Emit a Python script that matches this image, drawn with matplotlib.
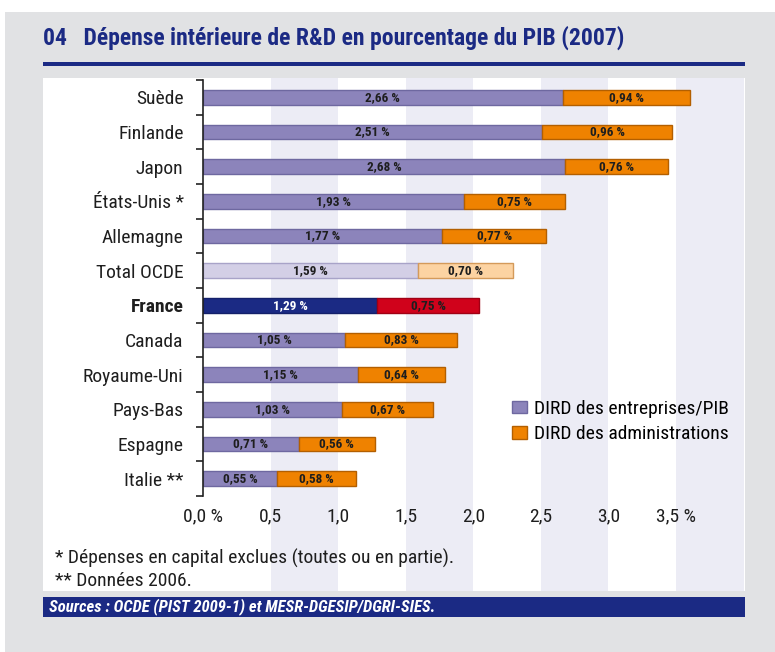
import matplotlib
matplotlib.use("Agg")
import matplotlib.pyplot as plt
from matplotlib.patches import Rectangle, Patch
from matplotlib import font_manager as fm

# ---------------- data ----------------
categories = ['Suède', 'Finlande', 'Japon', 'États-Unis *', 'Allemagne', 'Total OCDE',
              'France', 'Canada', 'Royaume-Uni', 'Pays-Bas', 'Espagne', 'Italie **']
dird_entreprises = [2.66, 2.51, 2.68, 1.93, 1.77, 1.59, 1.29, 1.05, 1.15, 1.03, 0.71, 0.55]
dird_administrations = [0.94, 0.96, 0.76, 0.75, 0.77, 0.70, 0.75, 0.83, 0.64, 0.67, 0.56, 0.58]
x_ticks = [0.0, 0.5, 1.0, 1.5, 2.0, 2.5, 3.0, 3.5]
x_ticklabels = ['0,0 %', '0,5', '1,0', '1,5', '2,0', '2,5', '3,0', '3,5 %']
legend_labels = ['DIRD des entreprises/PIB', 'DIRD des administrations']
title = '04   Dépense intérieure de R&D en pourcentage du PIB (2007)'
notes = ['* Dépenses en capital exclues (toutes ou en partie).', '** Données 2006.']
sources = 'Sources : OCDE (PIST 2009-1) et MESR-DGESIP/DGRI-SIES.'

# ---------------- fonts ----------------
avail = {f.name for f in fm.fontManager.ttflist}
prefs = ['Roboto Condensed', 'Archivo Narrow', 'PT Sans Narrow', 'Liberation Sans Narrow',
         'Arial Narrow', 'IBM Plex Sans Condensed', 'Fira Sans Condensed', 'Asap Condensed',
         'Encode Sans Condensed', 'Pragati Narrow', 'Liberation Sans']
narrow = next((p for p in prefs if p in avail), 'DejaVu Sans')
FAM = [narrow, 'DejaVu Sans']
plt.rcParams['font.family'] = FAM

W, H = 775, 652
fig = plt.figure(figsize=(W / 100, H / 100), dpi=100)
fig.patch.set_facecolor('white')

def fx(px):
    return px / W

def fy(py):
    return 1 - py / H

TXT = '#1e1e1e'
NAVY = '#1b2a84'

# grey background box
fig.patches.append(Rectangle((fx(5), 0), 1, fy(12), transform=fig.transFigure,
                             facecolor='#e1e2e4', edgecolor='none', zorder=0))
# white panel
fig.patches.append(Rectangle((fx(43), fy(591)), fx(745) - fx(43), fy(78) - fy(591),
                             transform=fig.transFigure, facecolor='white',
                             edgecolor='none', zorder=0.5))
# title rule
fig.patches.append(Rectangle((fx(43), fy(66)), fx(745) - fx(43), 4 / H,
                             transform=fig.transFigure, facecolor=NAVY,
                             edgecolor='none', zorder=1))
# sources band
fig.patches.append(Rectangle((fx(43), fy(617)), fx(745) - fx(43), 20 / H,
                             transform=fig.transFigure, facecolor=NAVY,
                             edgecolor='none', zorder=1))

fig.text(fx(43), fy(38), title, fontsize=17, fontweight='bold', color=NAVY,
         va='center', ha='left')
fig.text(fx(49), fy(607), sources, fontsize=12, fontweight='bold', style='italic',
         color='white', va='center', ha='left')
fig.text(fx(55), fy(558), notes[0], fontsize=14, color=TXT, va='center', ha='left')
fig.text(fx(55), fy(581), notes[1], fontsize=14, color=TXT, va='center', ha='left')

# ---------------- stripe axes ----------------
XMAX = 4.01
axb = fig.add_axes([fx(203), fy(591), fx(745) - fx(203), fy(78) - fy(591)])
axb.set_xlim(0, XMAX)
axb.set_ylim(0, 1)
for s in [0.5, 1.5, 2.5, 3.5]:
    axb.axvspan(s, s + 0.5, color='#ececf5', lw=0)
axb.axis('off')
axb.set_zorder(1)

# ---------------- main axes ----------------
ax = fig.add_axes([fx(203), fy(496), fx(745) - fx(203), fy(80) - fy(496)])
ax.set_zorder(2)
ax.patch.set_alpha(0)
n = len(categories)
ypos = list(range(n))

c_ent, c_adm = '#8c84bb', '#ef8200'
e_ent, e_adm = '#6e68a0', '#b35f00'
fc1, fc2, ec1, ec2 = [], [], [], []
for c in categories:
    if c == 'Total OCDE':
        fc1.append('#d3cfe6'); fc2.append('#fcd3a2'); ec1.append('#a8a3c8'); ec2.append('#d49a5a')
    elif c == 'France':
        fc1.append(NAVY); fc2.append('#d0021b'); ec1.append('#14206a'); ec2.append('#a00014')
    else:
        fc1.append(c_ent); fc2.append(c_adm); ec1.append(e_ent); ec2.append(e_adm)

bh = 0.43
ax.barh(ypos, dird_entreprises, height=bh, color=fc1, edgecolor=ec1, linewidth=1)
ax.barh(ypos, dird_administrations, left=dird_entreprises, height=bh, color=fc2,
        edgecolor=ec2, linewidth=1)

def fmt(v):
    return ('%.2f' % v).replace('.', ',') + ' %'

for i, c in enumerate(categories):
    e, a = dird_entreprises[i], dird_administrations[i]
    col1 = 'white' if c == 'France' else TXT
    ax.text(e / 2, i, fmt(e), ha='center', va='center', fontsize=9.5, fontweight='bold',
            color=col1)
    ax.text(e + a / 2, i, fmt(a), ha='center', va='center', fontsize=9.5, fontweight='bold',
            color=TXT)

ax.set_xlim(0, XMAX)
ax.set_ylim(n - 0.5, -0.5)
ax.set_yticks(ypos)
ax.set_yticklabels(categories, fontsize=14, color=TXT)
for lab in ax.get_yticklabels():
    if lab.get_text() == 'France':
        lab.set_fontweight('bold')
ax.set_yticks([i - 0.5 for i in range(n + 1)], minor=True)
ax.tick_params(axis='y', which='major', length=0, pad=14)
ax.tick_params(axis='y', which='minor', length=5, width=1.2, direction='out', color='#222222')
ax.set_xticks(x_ticks)
ax.set_xticklabels(x_ticklabels, fontsize=14, color=TXT)
ax.tick_params(axis='x', length=0, pad=8.5)
for s in ['top', 'right', 'bottom']:
    ax.spines[s].set_visible(False)
ax.spines['left'].set_linewidth(1.2)
ax.spines['left'].set_color('#222222')

handles = [Patch(facecolor=c_ent, edgecolor=e_ent), Patch(facecolor=c_adm, edgecolor=e_adm)]
fig.legend(handles, legend_labels, loc='upper left', bbox_to_anchor=(fx(512), fy(400)),
           frameon=False, fontsize=14, handlelength=0.75, handleheight=0.6,
           handletextpad=0.4, labelspacing=0.38, borderaxespad=0, borderpad=0)

fig.savefig('out.png', dpi=100)
